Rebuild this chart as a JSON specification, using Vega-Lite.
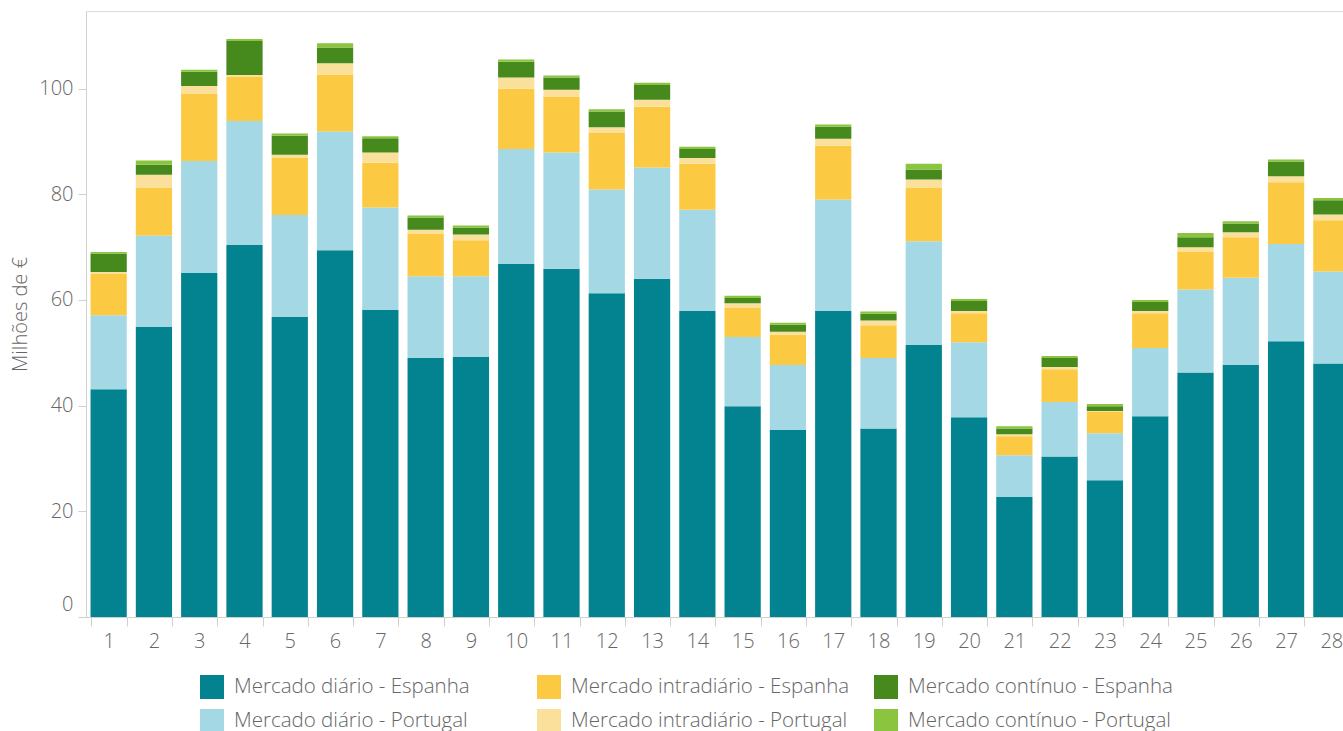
{
  "$schema": "https://vega.github.io/schema/vega-lite/v6.json",
  "width": 1257,
  "height": 606,
  "autosize": {"type": "none"},
  "padding": {"left": 86, "top": 11, "right": 0, "bottom": 114},
  "background": "white",
  "config": {
    "font": "Open Sans",
    "view": {"stroke": "#dcdcdc", "strokeWidth": 1},
    "axis": {
      "labelFont": "Open Sans",
      "titleFont": "Open Sans",
      "labelFontWeight": 300,
      "titleFontWeight": 300,
      "labelColor": "#666666",
      "titleColor": "#666666",
      "domainColor": "#d0d0d0",
      "tickColor": "#d0d0d0",
      "grid": false
    }
  },
  "data": {
    "values": [
      {"dia": 1, "Mercado diário - Espanha": 43.1, "Mercado diário - Portugal": 14.0, "Mercado intradiário - Espanha": 7.9, "Mercado intradiário - Portugal": 0.3, "Mercado contínuo - Espanha": 3.5, "Mercado contínuo - Portugal": 0.3},
      {"dia": 2, "Mercado diário - Espanha": 54.9, "Mercado diário - Portugal": 17.3, "Mercado intradiário - Espanha": 9.0, "Mercado intradiário - Portugal": 2.5, "Mercado contínuo - Espanha": 1.9, "Mercado contínuo - Portugal": 0.8},
      {"dia": 3, "Mercado diário - Espanha": 65.1, "Mercado diário - Portugal": 21.2, "Mercado intradiário - Espanha": 12.7, "Mercado intradiário - Portugal": 1.5, "Mercado contínuo - Espanha": 2.7, "Mercado contínuo - Portugal": 0.4},
      {"dia": 4, "Mercado diário - Espanha": 70.4, "Mercado diário - Portugal": 23.5, "Mercado intradiário - Espanha": 8.3, "Mercado intradiário - Portugal": 0.4, "Mercado contínuo - Espanha": 6.4, "Mercado contínuo - Portugal": 0.4},
      {"dia": 5, "Mercado diário - Espanha": 56.8, "Mercado diário - Portugal": 19.3, "Mercado intradiário - Espanha": 10.8, "Mercado intradiário - Portugal": 0.6, "Mercado contínuo - Espanha": 3.6, "Mercado contínuo - Portugal": 0.4},
      {"dia": 6, "Mercado diário - Espanha": 69.4, "Mercado diário - Portugal": 22.5, "Mercado intradiário - Espanha": 10.8, "Mercado intradiário - Portugal": 2.1, "Mercado contínuo - Espanha": 3.0, "Mercado contínuo - Portugal": 0.8},
      {"dia": 7, "Mercado diário - Espanha": 58.1, "Mercado diário - Portugal": 19.4, "Mercado intradiário - Espanha": 8.5, "Mercado intradiário - Portugal": 1.9, "Mercado contínuo - Espanha": 2.7, "Mercado contínuo - Portugal": 0.4},
      {"dia": 8, "Mercado diário - Espanha": 49.0, "Mercado diário - Portugal": 15.5, "Mercado intradiário - Espanha": 8.0, "Mercado intradiário - Portugal": 0.8, "Mercado contínuo - Espanha": 2.3, "Mercado contínuo - Portugal": 0.4},
      {"dia": 9, "Mercado diário - Espanha": 49.2, "Mercado diário - Portugal": 15.3, "Mercado intradiário - Espanha": 6.8, "Mercado intradiário - Portugal": 1.1, "Mercado contínuo - Espanha": 1.3, "Mercado contínuo - Portugal": 0.4},
      {"dia": 10, "Mercado diário - Espanha": 66.8, "Mercado diário - Portugal": 21.8, "Mercado intradiário - Espanha": 11.4, "Mercado intradiário - Portugal": 2.1, "Mercado contínuo - Espanha": 3.0, "Mercado contínuo - Portugal": 0.4},
      {"dia": 11, "Mercado diário - Espanha": 65.9, "Mercado diário - Portugal": 22.0, "Mercado intradiário - Espanha": 10.6, "Mercado intradiário - Portugal": 1.3, "Mercado contínuo - Espanha": 2.3, "Mercado contínuo - Portugal": 0.4},
      {"dia": 12, "Mercado diário - Espanha": 61.3, "Mercado diário - Portugal": 19.6, "Mercado intradiário - Espanha": 10.7, "Mercado intradiário - Portugal": 1.1, "Mercado contínuo - Espanha": 3.0, "Mercado contínuo - Portugal": 0.4},
      {"dia": 13, "Mercado diário - Espanha": 64.0, "Mercado diário - Portugal": 21.1, "Mercado intradiário - Espanha": 11.5, "Mercado intradiário - Portugal": 1.3, "Mercado contínuo - Espanha": 2.8, "Mercado contínuo - Portugal": 0.4},
      {"dia": 14, "Mercado diário - Espanha": 57.9, "Mercado diário - Portugal": 19.2, "Mercado intradiário - Espanha": 8.7, "Mercado intradiário - Portugal": 1.1, "Mercado contínuo - Espanha": 1.7, "Mercado contínuo - Portugal": 0.4},
      {"dia": 15, "Mercado diário - Espanha": 39.9, "Mercado diário - Portugal": 13.1, "Mercado intradiário - Espanha": 5.5, "Mercado intradiário - Portugal": 0.9, "Mercado contínuo - Espanha": 1.0, "Mercado contínuo - Portugal": 0.4},
      {"dia": 16, "Mercado diário - Espanha": 35.4, "Mercado diário - Portugal": 12.3, "Mercado intradiário - Espanha": 5.7, "Mercado intradiário - Portugal": 0.6, "Mercado contínuo - Espanha": 1.3, "Mercado contínuo - Portugal": 0.4},
      {"dia": 17, "Mercado diário - Espanha": 57.9, "Mercado diário - Portugal": 21.1, "Mercado intradiário - Espanha": 10.2, "Mercado intradiário - Portugal": 1.3, "Mercado contínuo - Espanha": 2.3, "Mercado contínuo - Portugal": 0.4},
      {"dia": 18, "Mercado diário - Espanha": 35.7, "Mercado diário - Portugal": 13.3, "Mercado intradiário - Espanha": 6.2, "Mercado intradiário - Portugal": 0.9, "Mercado contínuo - Espanha": 1.3, "Mercado contínuo - Portugal": 0.4},
      {"dia": 19, "Mercado diário - Espanha": 51.5, "Mercado diário - Portugal": 19.6, "Mercado intradiário - Espanha": 10.2, "Mercado intradiário - Portugal": 1.5, "Mercado contínuo - Espanha": 1.9, "Mercado contínuo - Portugal": 1.1},
      {"dia": 20, "Mercado diário - Espanha": 37.8, "Mercado diário - Portugal": 14.2, "Mercado intradiário - Espanha": 5.5, "Mercado intradiário - Portugal": 0.4, "Mercado contínuo - Espanha": 1.9, "Mercado contínuo - Portugal": 0.4},
      {"dia": 21, "Mercado diário - Espanha": 22.7, "Mercado diário - Portugal": 7.9, "Mercado intradiário - Espanha": 3.6, "Mercado intradiário - Portugal": 0.4, "Mercado contínuo - Espanha": 1.1, "Mercado contínuo - Portugal": 0.4},
      {"dia": 22, "Mercado diário - Espanha": 30.4, "Mercado diário - Portugal": 10.3, "Mercado intradiário - Espanha": 6.2, "Mercado intradiário - Portugal": 0.4, "Mercado contínuo - Espanha": 1.7, "Mercado contínuo - Portugal": 0.4},
      {"dia": 23, "Mercado diário - Espanha": 25.9, "Mercado diário - Portugal": 8.9, "Mercado intradiário - Espanha": 4.0, "Mercado intradiário - Portugal": 0.2, "Mercado contínuo - Espanha": 0.9, "Mercado contínuo - Portugal": 0.4},
      {"dia": 24, "Mercado diário - Espanha": 38.0, "Mercado diário - Portugal": 12.9, "Mercado intradiário - Espanha": 6.6, "Mercado intradiário - Portugal": 0.4, "Mercado contínuo - Espanha": 1.7, "Mercado contínuo - Portugal": 0.4},
      {"dia": 25, "Mercado diário - Espanha": 46.3, "Mercado diário - Portugal": 15.7, "Mercado intradiário - Espanha": 7.2, "Mercado intradiário - Portugal": 0.8, "Mercado contínuo - Espanha": 1.9, "Mercado contínuo - Portugal": 0.8},
      {"dia": 26, "Mercado diário - Espanha": 47.7, "Mercado diário - Portugal": 16.5, "Mercado intradiário - Espanha": 7.7, "Mercado intradiário - Portugal": 0.9, "Mercado contínuo - Espanha": 1.7, "Mercado contínuo - Portugal": 0.4},
      {"dia": 27, "Mercado diário - Espanha": 52.2, "Mercado diário - Portugal": 18.4, "Mercado intradiário - Espanha": 11.7, "Mercado intradiário - Portugal": 1.1, "Mercado contínuo - Espanha": 2.8, "Mercado contínuo - Portugal": 0.4},
      {"dia": 28, "Mercado diário - Espanha": 48.0, "Mercado diário - Portugal": 17.4, "Mercado intradiário - Espanha": 9.7, "Mercado intradiário - Portugal": 1.1, "Mercado contínuo - Espanha": 2.7, "Mercado contínuo - Portugal": 0.4}
    ]
  },
  "transform": [
    {"fold": ["Mercado diário - Espanha", "Mercado diário - Portugal", "Mercado intradiário - Espanha", "Mercado intradiário - Portugal", "Mercado contínuo - Espanha", "Mercado contínuo - Portugal"], "as": ["serie", "valor"]},
    {"calculate": "indexof(['Mercado diário - Espanha', 'Mercado diário - Portugal', 'Mercado intradiário - Espanha', 'Mercado intradiário - Portugal', 'Mercado contínuo - Espanha', 'Mercado contínuo - Portugal'], datum.serie)", "as": "ordem"}
  ],
  "mark": {"type": "bar"},
  "encoding": {
    "x": {
      "field": "dia",
      "type": "ordinal",
      "scale": {"range": [0, 1268], "paddingInner": 0.2, "paddingOuter": 0.1},
      "axis": {
        "title": null,
        "labelAngle": 0,
        "labelFontSize": 20,
        "tickBand": "extent",
        "tickSize": 9,
        "labelPadding": 5,
        "domain": true
      }
    },
    "y": {
      "field": "valor",
      "type": "quantitative",
      "stack": "zero",
      "scale": {"domain": [0, 114.7], "nice": false},
      "axis": {
        "title": "Milhões de €",
        "titleFontSize": 20,
        "titlePadding": 8,
        "values": [0, 20, 40, 60, 80, 100],
        "labelFontSize": 20,
        "labelFlush": true,
        "labelFlushOffset": -3,
        "tickSize": 8,
        "labelPadding": 5
      }
    },
    "color": {
      "field": "serie",
      "type": "nominal",
      "scale": {
        "domain": ["Mercado diário - Espanha", "Mercado intradiário - Espanha", "Mercado contínuo - Espanha", "Mercado diário - Portugal", "Mercado intradiário - Portugal", "Mercado contínuo - Portugal"],
        "range": ["#02838F", "#FCC943", "#46891C", "#A4D8E5", "#FAE09A", "#8BC43E"]
      },
      "legend": {
        "title": null,
        "orient": "none",
        "legendX": 114,
        "legendY": 664,
        "direction": "horizontal",
        "columns": 3,
        "gridAlign": "all",
        "columnPadding": 24,
        "rowPadding": 10,
        "symbolType": "square",
        "symbolSize": 576,
        "symbolStrokeWidth": 0,
        "symbolOpacity": 1,
        "labelFontSize": 20.5,
        "labelFontWeight": 300,
        "labelColor": "#666666",
        "labelFont": "Open Sans",
        "labelOffset": 10,
        "labelLimit": 400
      }
    },
    "order": {"field": "ordem", "type": "quantitative", "sort": "ascending"}
  }
}
